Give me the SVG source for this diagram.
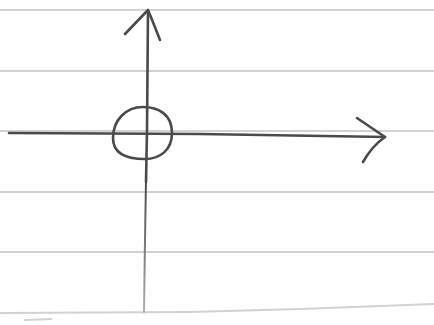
<svg xmlns="http://www.w3.org/2000/svg" width="434" height="325" viewBox="0 0 434 325">
<style>
.rule{stroke:#d2d2d2;stroke-width:2;fill:none}
.ink{stroke:#4a4a4a;stroke-width:2.6;fill:none;stroke-linecap:round;stroke-linejoin:round}
</style>
<defs>
<linearGradient id="fade" gradientUnits="userSpaceOnUse" x1="0" y1="180" x2="0" y2="312">
<stop offset="0" stop-color="#4a4a4a"/>
<stop offset="0.5" stop-color="#7a7a7a"/>
<stop offset="1" stop-color="#b0b0b0"/>
</linearGradient>
</defs>
<rect width="434" height="325" fill="#ffffff"/>
<g id="paper">
<line class="rule" x1="0" y1="10" x2="434" y2="10"/>
<line class="rule" x1="0" y1="71" x2="434" y2="71"/>
<line class="rule" x1="0" y1="131" x2="434" y2="131"/>
<line class="rule" x1="0" y1="192" x2="434" y2="192"/>
<line class="rule" x1="0" y1="252" x2="434" y2="252"/>
<path class="rule" d="M0 313 L190 312 L300 309 L434 304"/>
<line class="rule" x1="24" y1="320" x2="52" y2="319"/>
</g>
<g id="connectors">
<path class="ink" d="M148 11 L147 130 L146 182"/>
<path d="M146 180 L145 240 L144 312" stroke="url(#fade)" stroke-width="2" fill="none" stroke-linecap="round"/>
<path class="ink" d="M125 34 L148 10 Q153 22 160 40"/>
<path class="ink" d="M9 133 L200 134 L385 137"/>
<path class="ink" d="M357 118 L385 137 Q372 146 363 162"/>
</g>
<g id="origin">
<path class="ink" d="M143 107 C158 107 172 114 172 133 C172 150 160 159 145 159 C124 159 113 152 113 138 C113 120 126 107 143 107 Z"/>
</g>
</svg>
